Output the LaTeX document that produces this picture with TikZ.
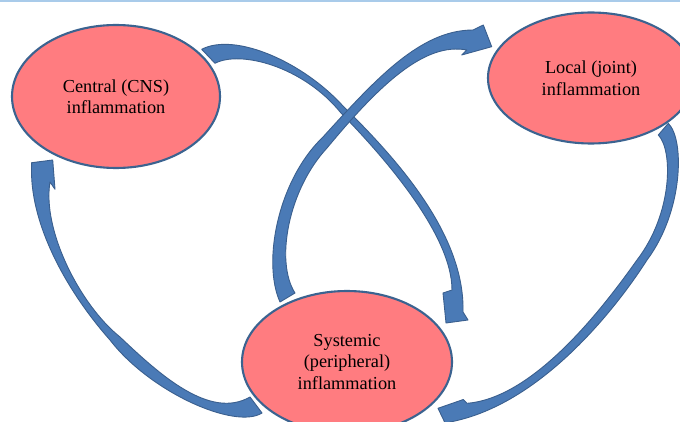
\documentclass[tikz,border=0pt]{standalone}
\usepackage{fontspec}
\setmainfont{Liberation Serif}
\usetikzlibrary{shapes.geometric}
\definecolor{ellfill}{HTML}{FF7C80}
\definecolor{ellline}{HTML}{3B6390}
\definecolor{arrfill}{HTML}{4A7AB6}
\definecolor{arrline}{HTML}{3A5F8E}
\definecolor{topblue}{HTML}{A9CBEA}
\tikzset{
  ell/.style={ellipse, draw=ellline, fill=ellfill, line width=2.1pt, inner sep=0pt,
    align=center, font=\fontsize{18.3}{21.5}\selectfont},
  blockarrow/.style={fill=arrfill, draw=arrline, line width=0.9pt, line join=round}
}
\begin{document}
\begin{tikzpicture}[x=1pt, y=-1pt]
\useasboundingbox (0,0) rectangle (680,422);
\clip (0,0) rectangle (680,422);
\fill[white] (0,0) rectangle (680,422);
\draw[topblue, line width=1.6pt] (0,0.8) -- (680,0.8);

% Arrow A: Central -> Systemic
\filldraw[blockarrow] (215,63.3) -- (201.7,49.3)
  .. controls (235,32) and (303,62) .. (343,106)
  .. controls (398,160) and (465,235) .. (463,312)
  -- (468,320) -- (446,323) -- (443,293) -- (452,290)
  .. controls (452,235) and (385,158) .. (341,113)
  .. controls (303,66) and (240,50) .. (215,63.3) -- cycle;

% Arrow B: Systemic -> Local
\filldraw[blockarrow] (295,293) -- (280,302)
  .. controls (262,262) and (278,180) .. (323,137)
  .. controls (375,80) and (420,30) .. (473,30)
  -- (483.3,25) -- (491.7,46.7) -- (461.7,55) -- (466.7,50)
  .. controls (425,42) and (380,84) .. (327,148)
  .. controls (288,190) and (275,262) .. (295,293) -- cycle;

% Arrow C: Local -> Systemic
\filldraw[blockarrow] (658.3,135) -- (668.3,123.3)
  .. controls (685,140) and (683,212) .. (647,260)
  .. controls (615,310) and (540,405) .. (450,422)
  -- (447,427) -- (438,408.3) -- (463.3,399.5) -- (467,403.3)
  .. controls (535,398) and (605,305) .. (637,260)
  .. controls (673,213) and (673,150) .. (658.3,135) -- cycle;

% Arrow D: Systemic -> Central
\filldraw[blockarrow] (250,397) -- (262,413)
  .. controls (235,430) and (150,392) .. (110,340)
  .. controls (70,295) and (28,225) .. (31.7,162.7)
  -- (52.7,160) -- (55,189.3) -- (50,182)
  .. controls (42,230) and (80,305) .. (120,337)
  .. controls (160,375) and (210,420) .. (250,397) -- cycle;

% Ellipses
\node[ell, minimum width=208pt, minimum height=143pt] (cns) at (116,96.5) {Central (CNS)\\inflammation};
\node[ell, minimum width=206pt, minimum height=131pt] (local) at (591,78) {Local (joint)\\inflammation};
\node[ell, minimum width=210pt, minimum height=142pt] (sys) at (347,362) {Systemic\\(peripheral)\\inflammation};
\end{tikzpicture}
\end{document}
